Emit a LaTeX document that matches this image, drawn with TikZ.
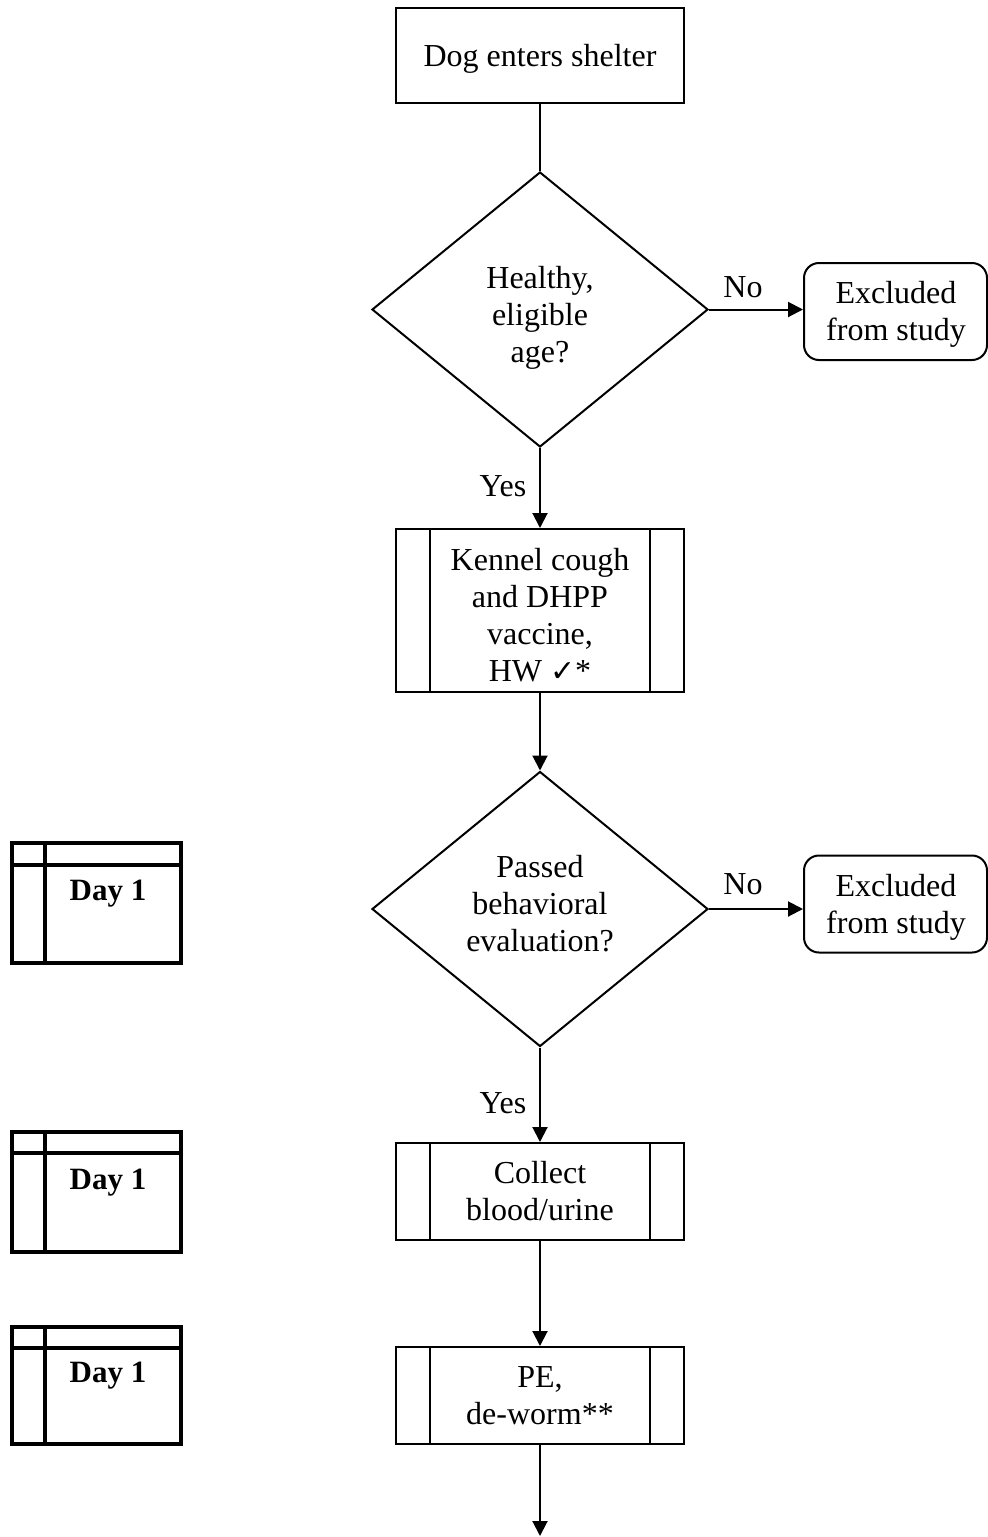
\documentclass[tikz,border=0pt]{standalone}
\usepackage{fontspec}
\setmainfont{Liberation Serif}
\newfontfamily\symfont{DejaVu Sans}
\usetikzlibrary{shapes.geometric,arrows.meta}
\begin{document}
\begin{tikzpicture}[x=1pt,y=-1pt,
  txt/.style={font=\fontsize{32}{37}\selectfont},
  procbox/.style={draw, line width=2pt, minimum width=288pt, minimum height=95pt, inner sep=0pt, align=center, txt},
  decision/.style={draw, diamond, line width=2pt, minimum width=336pt, minimum height=275pt, inner sep=0pt},
  exclbox/.style={draw, line width=2pt, rounded corners=15pt, minimum width=183pt, minimum height=97pt, inner sep=0pt},
  arr/.style={line width=2pt, -{Triangle[length=15pt,width=15pt]}},
  plain/.style={line width=2pt},
  lbl/.style={txt, inner sep=0pt, align=center},
  daytxt/.style={font=\fontsize{31}{36}\selectfont\bfseries, inner sep=0pt},
  dayframe/.style={line width=4pt}
]
\useasboundingbox (0,0) rectangle (988,1537);

% main flow
\node[procbox] (start) at (540,55.5) {};
\node[lbl] (startt) at (540,59) {Dog enters shelter};
\node[decision] (d1) at (540,309.5) {};
\node[lbl] (d1t) at (540,318) {Healthy,\\eligible\\age?};
\node[exclbox] (ex1) at (895.5,311.5) {};
\node[lbl] (ex1t) at (896,314) {Excluded\\from study};
\node[procbox, minimum height=163pt] (vac) at (540,610.5) {};
\node[lbl] (vact) at (540,615) {Kennel cough\\and DHPP\\vaccine,\\HW {\symfont\fontsize{30}{37}\selectfont ✓}*};
\node[decision] (d2) at (540,909) {};
\node[lbl] (d2t) at (540,904) {Passed\\behavioral\\evaluation?};
\node[exclbox] (ex2) at (895.5,904) {};
\node[lbl] (ex2t) at (896,907) {Excluded\\from study};
\node[procbox, minimum height=97pt] (blood) at (540,1191.5) {Collect\\blood/urine};
\node[procbox, minimum height=97pt] (pe) at (540,1395.5) {PE,\\de-worm**};
\coordinate (endpt) at (540,1536);

% predefined process side bars
\foreach \n in {vac,blood,pe}{
  \draw[plain] ([xshift=35pt]\n.north west) -- ([xshift=35pt]\n.south west);
  \draw[plain] ([xshift=-35pt]\n.north east) -- ([xshift=-35pt]\n.south east);
}

% connectors
\draw[plain] (start.south) -- (d1.north);
\draw[arr] (d1.east) -- (ex1.west |- d1.east);
\draw[arr] (d1.south) -- (vac.north);
\draw[arr] (vac.south) -- (d2.north);
\draw[arr] (d2.east) -- (ex2.west |- d2.east);
\draw[arr] (d2.south) -- (blood.north);
\draw[arr] (blood.south) -- (pe.north);
\draw[arr] (pe.south) -- (endpt);

% labels
\node[lbl] (no1) at (743,287) {No};
\node[lbl] (yes1) at (503,486) {Yes};
\node[lbl] (no2) at (743,884) {No};
\node[lbl] (yes2) at (503,1103) {Yes};

% day boxes
\foreach \top/\bot/\h in {843/963/865, 1132/1252/1153, 1327/1444/1348}{
  \draw[dayframe] (12,\top) rectangle (181,\bot);
  \draw[dayframe] (12,\h) -- (181,\h);
  \draw[dayframe] (45,\top) -- (45,\bot);
}
\node[daytxt] (day1) at (108,894) {Day 1};
\node[daytxt] (day2) at (108,1183) {Day 1};
\node[daytxt] (day3) at (108,1376) {Day 1};
\end{tikzpicture}
\end{document}
